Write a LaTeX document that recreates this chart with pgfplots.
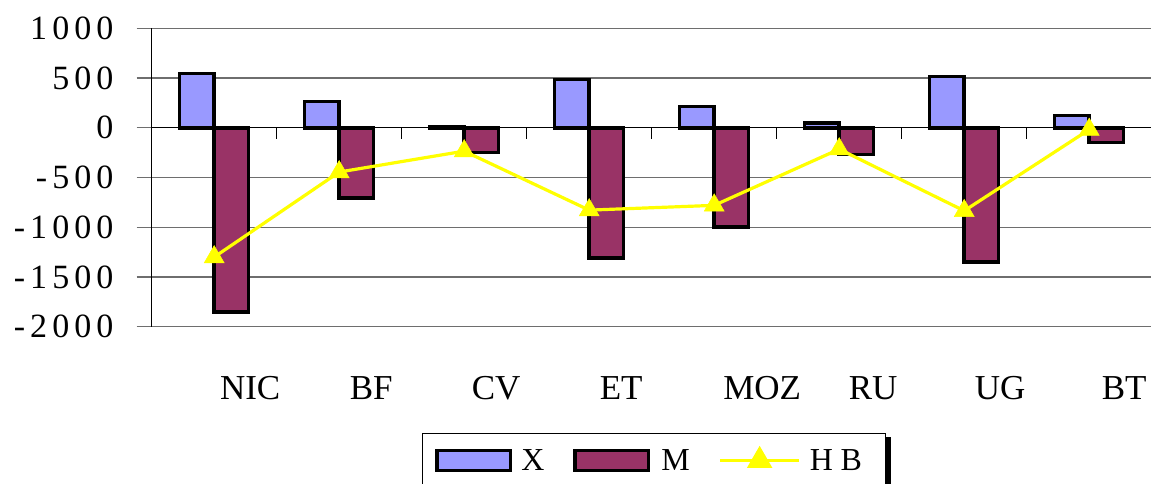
\documentclass[border=0pt]{standalone}
\usepackage{pgfplots}
\pgfplotsset{compat=1.18}
\usepackage{pgfplotstable}
\usepackage{fontspec}
\setmainfont{Liberation Serif}
\newfontfamily\spacedA[LetterSpace=15]{Liberation Serif}
\newfontfamily\spacedB[LetterSpace=24]{Liberation Serif}
\definecolor{xcol}{HTML}{9999FF}
\definecolor{mcol}{HTML}{993366}
\definecolor{hbcol}{HTML}{FFFF00}
\definecolor{gridc}{HTML}{6E6E6E}

\pgfplotstableread{
idx X M HB
0 548 -1853 -1300
1 262 -704 -445
2 15 -250 -235
3 485 -1308 -828
4 214 -998 -780
5 50 -271 -215
6 515 -1348 -835
7 123 -150 -18
}\data

\begin{document}
\begin{tikzpicture}
\path[use as bounding box] (-151.7pt,-157.3pt) rectangle (999.3pt,326.7pt);
\clip (-151.7pt,-157.3pt) rectangle (999.3pt,326.7pt);
\begin{axis}[
  at={(0pt,0pt)}, anchor=south west,
  scale only axis, width=1000pt, height=298.4pt,
  xmin=-0.5, xmax=7.5, ymin=-2000, ymax=1000,
  axis y line*=left,
  axis x line*=bottom,
  x axis line style={draw=none},
  y axis line style={black, line width=1.3pt, -},
  ytick={-2000,-1500,-1000,-500,0,500,1000},
  yticklabels={-2000,-1500,-1000,-500,0,500,1000},
  ymajorgrids,
  grid style={gridc, line width=1.2pt},
  ytick style={gridc, line width=1.2pt},
  major tick length=15pt,
  tick align=outside,
  extra y ticks={0},
  extra y tick labels={},
  extra y tick style={grid style={black, line width=1.3pt}, major tick length=0pt},
  xtick={0,1,2,3,4,5,6,7},
  xticklabels={\hspace{8pt}NIC, BF\hspace{10pt}, CV, ET\hspace{6pt}, \hspace{32pt}MOZ, \hspace{4pt}RU, \hspace{8pt}UG, \hspace{6pt}BT},
  x tick style={draw=none},
  yticklabel style={font=\spacedA\fontsize{34}{40}\selectfont, anchor=east, inner sep=0pt, xshift=-23pt},
  xticklabel style={font=\fontsize{35}{42}\selectfont, anchor=base, inner sep=0pt, xshift=32pt, yshift=-57.5pt},
  legend columns=3,
  legend cell align=left,
  legend style={name=leg, at={(0.2703,-0.3562)}, anchor=north west, draw=black, line width=0.8pt, fill=white,
    inner xsep=13pt, inner ysep=14pt, font=\fontsize{32}{38}\selectfont,
    nodes={inner sep=0pt},
    /tikz/every even column/.style={column sep=0pt}},
]
\addplot[ybar, bar width=34.5pt, bar shift=-17.25pt, fill=xcol, draw=black, line width=3.5pt,
  legend image code/.code={\draw[fill=xcol, draw=black, line width=3.5pt] (1.75pt,-10pt) rectangle (75.25pt,10pt);}]
  table[x=idx,y=X]{\data};
\addlegendentry{\makebox[61pt][l]{\hspace{9pt}X}}
\addplot[ybar, bar width=34.5pt, bar shift=17.25pt, fill=mcol, draw=black, line width=3.5pt,
  legend image code/.code={\draw[fill=mcol, draw=black, line width=3.5pt] (1.75pt,-10pt) rectangle (75.25pt,10pt);}]
  table[x=idx,y=M]{\data};
\addlegendentry{\makebox[68pt][l]{\hspace{11pt}M}}
\addplot[hbcol, line width=3.2pt, mark=triangle*, mark size=11.5pt,
  mark options={solid, line width=0.5pt, fill=hbcol, draw=hbcol},
  legend image code/.code={\draw[hbcol, line width=3.5pt] (0pt,0pt) -- (79pt,0pt); \fill[hbcol] (39.5pt,11.5pt) -- (29.54pt,-5.75pt) -- (49.46pt,-5.75pt) -- cycle;}]
  table[x=idx,y=HB]{\data};
\addlegendentry{\makebox[71pt][l]{\hspace{9pt}\spacedB HB}}
\pgfplotsinvokeforeach{-0.5,0.5,1.5,2.5,3.5,4.5,5.5,6.5}{
  \draw[black, line width=1pt] (axis cs:#1,0) -- ++(0pt,-11pt);
}
\end{axis}
\fill[black] ([yshift=-4pt]leg.north east) rectangle ([xshift=6pt, yshift=-80pt]leg.north east);
\end{tikzpicture}
\end{document}
